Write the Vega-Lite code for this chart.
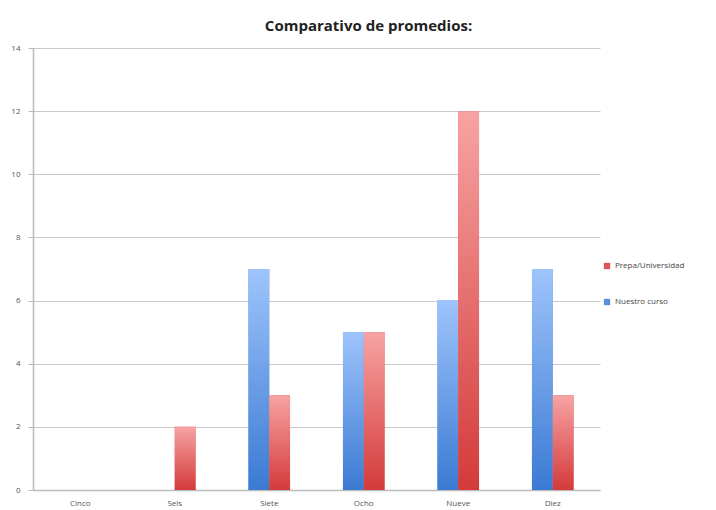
{
  "$schema": "https://vega.github.io/schema/vega-lite/v6.json",
  "width": 567,
  "height": 442,
  "autosize": "none",
  "padding": {"left": 33, "top": 48, "right": 116, "bottom": 20},
  "background": "white",
  "config": {"view": {"stroke": null}},
  "title": {
    "text": "Comparativo de promedios:",
    "font": "Open Sans",
    "fontSize": 15,
    "fontWeight": "bold",
    "color": "#222222",
    "anchor": "middle",
    "dx": 52,
    "offset": 10
  },
  "data": {
    "values": [
      {"categoria": "Cinco", "serie": "Nuestro curso", "valor": 0},
      {"categoria": "Cinco", "serie": "Prepa/Universidad", "valor": 0},
      {"categoria": "Seis", "serie": "Nuestro curso", "valor": 0},
      {"categoria": "Seis", "serie": "Prepa/Universidad", "valor": 2},
      {"categoria": "Siete", "serie": "Nuestro curso", "valor": 7},
      {"categoria": "Siete", "serie": "Prepa/Universidad", "valor": 3},
      {"categoria": "Ocho", "serie": "Nuestro curso", "valor": 5},
      {"categoria": "Ocho", "serie": "Prepa/Universidad", "valor": 5},
      {"categoria": "Nueve", "serie": "Nuestro curso", "valor": 6},
      {"categoria": "Nueve", "serie": "Prepa/Universidad", "valor": 12},
      {"categoria": "Diez", "serie": "Nuestro curso", "valor": 7},
      {"categoria": "Diez", "serie": "Prepa/Universidad", "valor": 3}
    ]
  },
  "encoding": {
    "x": {
      "field": "categoria",
      "type": "nominal",
      "sort": ["Cinco", "Seis", "Siete", "Ocho", "Nueve", "Diez"],
      "scale": {"paddingInner": 0.56, "paddingOuter": 0.28},
      "axis": {
        "title": null,
        "labelAngle": 0,
        "labelFont": "Open Sans",
        "labelFontSize": 8,
        "labelColor": "#555555",
        "ticks": false,
        "labelPadding": 9,
        "domainColor": "#bbbbbb",
        "domainWidth": 1.5
      }
    },
    "xOffset": {
      "field": "serie",
      "type": "nominal",
      "sort": ["Nuestro curso", "Prepa/Universidad"],
      "scale": {"paddingInner": 0, "paddingOuter": 0}
    },
    "y": {
      "field": "valor",
      "type": "quantitative",
      "scale": {"domain": [0, 14]},
      "axis": {
        "title": null,
        "values": [0, 2, 4, 6, 8, 10, 12, 14],
        "labelFont": "Open Sans",
        "labelFontSize": 8,
        "labelColor": "#555555",
        "tickSize": 5,
        "tickColor": "#bbbbbb",
        "labelPadding": 8,
        "domainColor": "#bbbbbb",
        "domainWidth": 1.5,
        "gridColor": "#c8c8c8",
        "gridWidth": 1.2
      }
    }
  },
  "layer": [
    {
      "mark": {"type": "bar"},
      "encoding": {
        "color": {
          "field": "serie",
          "type": "nominal",
          "scale": {
            "domain": ["Prepa/Universidad", "Nuestro curso"],
            "range": ["#e05555", "#5b8fdc"]
          },
          "legend": {
            "title": null,
            "orient": "none",
            "legendX": 570,
            "legendY": 214,
            "labelFont": "Open Sans",
            "labelFontSize": 8,
            "labelColor": "#444444",
            "symbolType": "square",
            "symbolSize": 40,
            "rowPadding": 28
          }
        }
      }
    },
    {
      "mark": {"type": "bar"},
      "encoding": {
        "fill": {
          "condition": {
            "test": "datum.serie === 'Nuestro curso'",
            "value": {
              "gradient": "linear",
              "x1": 0, "y1": 0, "x2": 0, "y2": 1,
              "stops": [
                {"offset": 0, "color": "#9ec4fb"},
                {"offset": 1, "color": "#3b7ad3"}
              ]
            }
          },
          "value": {
            "gradient": "linear",
            "x1": 0, "y1": 0, "x2": 0, "y2": 1,
            "stops": [
              {"offset": 0, "color": "#f7a3a3"},
              {"offset": 1, "color": "#d43a3a"}
            ]
          }
        }
      }
    }
  ]
}
